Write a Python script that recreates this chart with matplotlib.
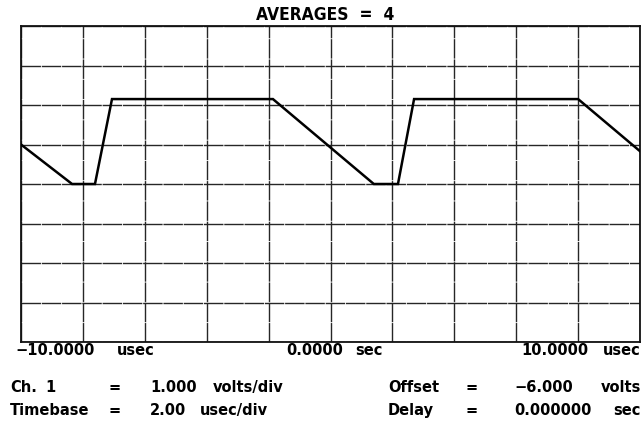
import numpy as np
import matplotlib.pyplot as plt

W, H = 642, 424

# trace vertices: time (usec) and level (volts)
t_us = [-10.0, -8.35, -7.61, -7.06, -1.86, 1.40, 2.18, 2.70, 8.00, 10.0]
v_volts = [-5.00, -6.00, -6.00, -3.85, -3.85, -6.00, -6.00, -3.85, -3.85, -5.17]

# screen setup
t_min, t_max = -10.0, 10.0
usec_div = 2.0
volts_div = 1.0
offset = -6.0
n_vdiv = 8

time_labels = ['\u221210.0000', 'usec', '0.0000', 'sec', '10.0000', 'usec']
settings_left = [('Ch.', '1', '=', '1.000', 'volts/div'),
                 ('Timebase', '', '=', '2.00', 'usec/div')]
settings_right = [('Offset', '=', '\u22126.000', 'volts'),
                  ('Delay', '=', '0.000000', 'sec')]

plt.rcParams['font.family'] = ['DejaVu Sans']

fig = plt.figure(figsize=(W / 100, H / 100), dpi=100)
ax = fig.add_axes([21 / W, 1 - 342 / H, 619 / W, 316 / H])

y_lo = offset - volts_div * n_vdiv / 2
y_hi = offset + volts_div * n_vdiv / 2
ax.set_xlim(t_min, t_max)
ax.set_ylim(y_lo, y_hi)
ax.set_xticks(np.arange(t_min, t_max + 0.01, usec_div))
ax.set_yticks(np.arange(y_lo, y_hi + 0.01, volts_div))
ax.tick_params(length=0, labelbottom=False, labelleft=False)
ax.grid(True, color='#262626', lw=1.0, ls=(0, (14, 0.6)))
for s in ax.spines.values():
    s.set_color('#111111')
    s.set_linewidth(1.3)

ax.plot(t_us, v_volts, color='black', lw=1.8, solid_joinstyle='miter', zorder=5)


def px(x, y):
    return x / W, 1 - y / H


fig.text(*px(325, 20), 'AVERAGES  =  4', ha='center', va='baseline',
         fontsize=12.5, fontweight='bold', stretch='condensed',
         family=['Liberation Sans Narrow', 'DejaVu Sans'])

# time axis labels
kw = dict(va='baseline', fontsize=10.5, fontweight='bold')
fig.text(*px(15, 355), time_labels[0], ha='left', **kw)
fig.text(*px(117, 355), time_labels[1], ha='left', **kw)
fig.text(*px(343, 355), time_labels[2], ha='right', **kw)
fig.text(*px(355, 355), time_labels[3], ha='left', **kw)
fig.text(*px(588, 355), time_labels[4], ha='right', **kw)
fig.text(*px(641, 355), time_labels[5], ha='right', **kw)

# channel / timebase settings
for row, y in zip(settings_left, [392, 415]):
    name, num, eq, val, unit = row
    fig.text(*px(10, y), name, ha='left', **kw)
    if num:
        fig.text(*px(45, y), num, ha='left', **kw)
    fig.text(*px(115, y), eq, ha='center', **kw)
    fig.text(*px(150, y), val, ha='left', **kw)
    fig.text(*px(213 if val == '1.000' else 200, y), unit, ha='left', **kw)

for row, y in zip(settings_right, [392, 415]):
    name, eq, val, unit = row
    fig.text(*px(388, y), name, ha='left', **kw)
    fig.text(*px(472, y), eq, ha='center', **kw)
    fig.text(*px(514, y), val, ha='left', **kw)
    fig.text(*px(641, y), unit, ha='right', **kw)

fig.savefig('out.png', dpi=100)
